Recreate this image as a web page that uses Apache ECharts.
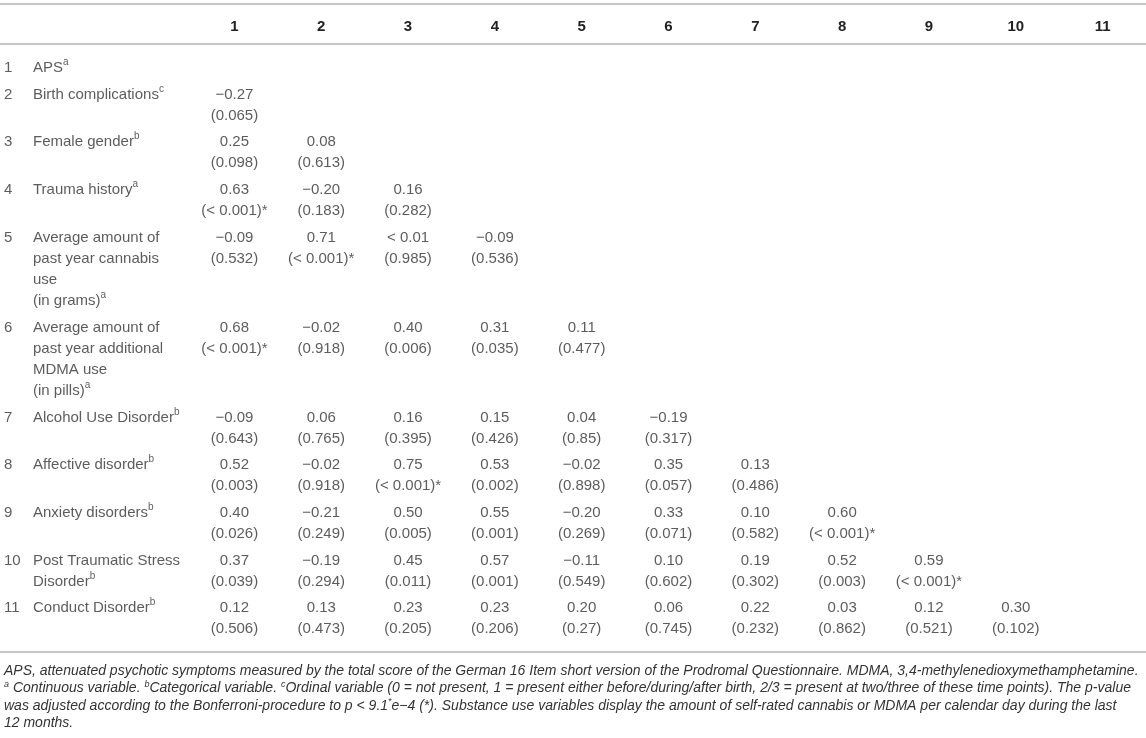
<!DOCTYPE html>
<html>
<head>
<meta charset="utf-8">
<script src="https://cdn.jsdelivr.net/npm/echarts@6/dist/echarts.min.js"></script>
<style>
  html, body { margin: 0; padding: 0; background: #fff; }
  #table { width: 1146px; height: 738px; }
</style>
</head>
<body>
<div id="table"></div>
<script>
// 列标题
var columns = ['1', '2', '3', '4', '5', '6', '7', '8', '9', '10', '11'];

// 行名称（{s|x} 为上标）
var rowNames = [
    'APS{s|a}',
    'Birth complications{s|c}',
    'Female gender{s|b}',
    'Trauma history{s|a}',
    'Average amount of\npast year cannabis\nuse\n(in grams){s|a}',
    'Average amount of\npast year additional\nMDMA use\n(in pills){s|a}',
    'Alcohol Use Disorder{s|b}',
    'Affective disorder{s|b}',
    'Anxiety disorders{s|b}',
    'Post Traumatic Stress\nDisorder{s|b}',
    'Conduct Disorder{s|b}'
];

// 相关系数（下三角）
var rValues = [
    [],
    [-0.27],
    [0.25, 0.08],
    [0.63, -0.20, 0.16],
    [-0.09, 0.71, '< 0.01', -0.09],
    [0.68, -0.02, 0.40, 0.31, 0.11],
    [-0.09, 0.06, 0.16, 0.15, 0.04, -0.19],
    [0.52, -0.02, 0.75, 0.53, -0.02, 0.35, 0.13],
    [0.40, -0.21, 0.50, 0.55, -0.20, 0.33, 0.10, 0.60],
    [0.37, -0.19, 0.45, 0.57, -0.11, 0.10, 0.19, 0.52, 0.59],
    [0.12, 0.13, 0.23, 0.23, 0.20, 0.06, 0.22, 0.03, 0.12, 0.30]
];

// p 值
var pValues = [
    [],
    [0.065],
    [0.098, 0.613],
    ['< 0.001', 0.183, 0.282],
    [0.532, '< 0.001', 0.985, 0.536],
    ['< 0.001', 0.918, 0.006, 0.035, 0.477],
    [0.643, 0.765, 0.395, 0.426, 0.85, 0.317],
    [0.003, 0.918, '< 0.001', 0.002, 0.898, 0.057, 0.486],
    [0.026, 0.249, 0.005, 0.001, 0.269, 0.071, 0.582, '< 0.001'],
    [0.039, 0.294, 0.011, 0.001, 0.549, 0.602, 0.302, 0.003, '< 0.001'],
    [0.506, 0.473, 0.205, 0.206, 0.27, 0.745, 0.232, 0.862, 0.521, 0.102]
];

var notes = [
    'APS, attenuated psychotic symptoms measured by the total score of the German 16 Item short version of the Prodromal Questionnaire. MDMA, 3,4-methylenedioxymethamphetamine.',
    '{s|a} Continuous variable. {s|b}Categorical variable. {s|c}Ordinal variable (0 = not present, 1 = present either before/during/after birth, 2/3 = present at two/three of these time points). The p-value',
    'was adjusted according to the Bonferroni-procedure to p < 9.1{s|*}e\u22124 (*). Substance use variables display the amount of self-rated cannabis or MDMA per calendar day during the last',
    '12 months.'
];

var FONT = '"Liberation Sans", Arial, sans-serif';
var LINE_H = 21.1;
var ROW_PAD = 5.5;
var GRID_LEFT = 191;
var GRID_TOP = 57.4;

// 每行高度取名称行数与单元格行数（系数 + p 值 = 2 行）中的较大者
var rowTops = [];
var acc = 0;
rowNames.forEach(function (name, i) {
    rowTops.push(acc);
    var lines = Math.max(name.split('\n').length, rValues[i].length ? 2 : 1);
    acc += lines * LINE_H + ROW_PAD;
});
var totalH = acc;

function fmtR(v) {
    if (typeof v === 'string') return v;
    var s = v.toFixed(2);
    return s.charAt(0) === '-' ? '\u2212' + s.slice(1) : s;
}
function fmtP(v) {
    if (typeof v === 'string') return '(' + v + ')*';
    return '(' + String(v) + ')';
}

var cellData = [];
rValues.forEach(function (row, i) {
    row.forEach(function (r, j) {
        cellData.push({ value: [j, rowTops[i]], r: r, p: pValues[i][j] });
    });
});
var rowData = rowNames.map(function (name, i) {
    return { value: [0, rowTops[i]], num: String(i + 1), name: name };
});

var colW = (1146 - GRID_LEFT) / columns.length;
var col1X = GRID_LEFT + colW / 2;

var supStyle = { fontSize: 10, lineHeight: 15, verticalAlign: 'top', fontFamily: FONT, color: '#333' };
var baseLabel = {
    show: true,
    position: 'inside',
    verticalAlign: 'top',
    fontFamily: FONT,
    fontSize: 15,
    lineHeight: LINE_H,
    color: '#333'
};

var myChart = echarts.init(document.getElementById('table'));

var option = {
    animation: false,
    backgroundColor: '#fff',
    grid: { left: GRID_LEFT, right: 0, top: GRID_TOP, height: totalH },
    xAxis: {
        type: 'category',
        position: 'top',
        data: columns,
        axisLine: { show: false },
        axisTick: { show: false },
        splitLine: { show: false },
        axisLabel: {
            margin: 23,
            fontFamily: FONT,
            fontSize: 15,
            fontWeight: 'bold',
            color: '#222'
        }
    },
    yAxis: {
        type: 'value',
        inverse: true,
        min: 0,
        max: totalH,
        show: false
    },
    series: [
        {
            name: 'cells',
            type: 'scatter',
            silent: true,
            symbolSize: 1,
            itemStyle: { color: 'rgba(0,0,0,0)' },
            data: cellData,
            label: Object.assign({}, baseLabel, {
                align: 'center',
                formatter: function (p) {
                    return fmtR(p.data.r) + '\n' + fmtP(p.data.p);
                }
            })
        },
        {
            name: 'rowNumbers',
            type: 'scatter',
            silent: true,
            symbolSize: 1,
            itemStyle: { color: 'rgba(0,0,0,0)' },
            data: rowData,
            label: Object.assign({}, baseLabel, {
                align: 'left',
                offset: [4 - col1X, 0],
                formatter: function (p) { return p.data.num; }
            })
        },
        {
            name: 'rowNames',
            type: 'scatter',
            silent: true,
            symbolSize: 1,
            itemStyle: { color: 'rgba(0,0,0,0)' },
            data: rowData,
            label: Object.assign({}, baseLabel, {
                align: 'left',
                offset: [33 - col1X, 0],
                rich: { s: supStyle },
                formatter: function (p) { return p.data.name; }
            })
        }
    ],
    graphic: [
        { type: 'line', silent: true, shape: { x1: 0, y1: 4, x2: 1146, y2: 4 }, style: { stroke: '#b3b3b3', lineWidth: 1.5 } },
        { type: 'line', silent: true, shape: { x1: 0, y1: 44, x2: 1146, y2: 44 }, style: { stroke: '#b3b3b3', lineWidth: 1.5 } },
        { type: 'line', silent: true, shape: { x1: 0, y1: 652, x2: 1146, y2: 652 }, style: { stroke: '#b3b3b3', lineWidth: 1.5 } },
        {
            type: 'text',
            silent: true,
            left: 4,
            top: 662,
            style: {
                text: notes.join('\n'),
                font: 'italic 14px ' + FONT,
                lineHeight: 17.5,
                fill: '#333',
                rich: {
                    s: { fontSize: 9, lineHeight: 12, verticalAlign: 'top', fontStyle: 'italic', fontFamily: FONT, fill: '#333' }
                }
            }
        }
    ]
};

myChart.setOption(option);
</script>
</body>
</html>
